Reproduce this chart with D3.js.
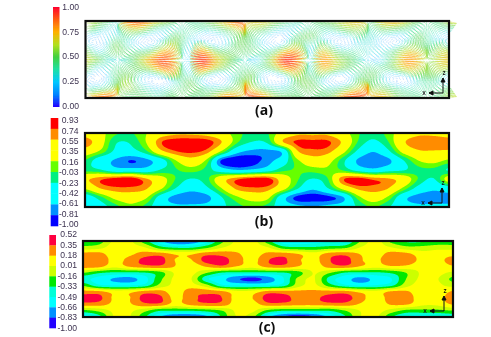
<!DOCTYPE html>
<html><head><meta charset="utf-8">
<script src="https://cdn.jsdelivr.net/npm/d3@7"></script>
<style>html,body{margin:0;padding:0;background:#fff}svg{display:block}text{font-family:"Open Sans",sans-serif}</style>
</head><body><svg id="c" width="491" height="337"></svg>
<script>
// ---- tick labels ----
const ticksA=["1.00","0.75","0.50","0.25","0.00"];
const ticksB=["0.93","0.74","0.55","0.35","0.16","-0.03","-0.23","-0.42","-0.61","-0.81","-1.00"];
const ticksC=["0.52","0.35","0.18","0.01","-0.16","-0.33","-0.49","-0.66","-0.83","-1.00"];
const panelLabels=["(a)","(b)","(c)"];
// ---- colours ----
const rampStopsA=[0,.12,.25,.38,.5,.62,.75,.88,1];
const rampColorsA=["#2200ff","#0080ff","#00c8ff","#20e0a0","#40d040","#b0e020","#ffb000","#ff5a10","#ff0030"];
const cellsB=["#ff0000","#ff8c00","#ffff00","#ffff00","#66ff00","#00f080","#00ffff","#00ffff","#0090ff","#0000ff"];
const cellsC=["#ff0040","#ff8c00","#ffff00","#ccff00","#00e800","#00ffd8","#00ffff","#0090ff","#2000ff"];
// ---- panel (b) field, rows top to bottom ----
const fieldB=[
[.4,.25,0,-.05,.15,.4,.5,.5,.45,.3,.05,-.1,-.05,.3,.5,.5,.5,.3,0,-.15,.05,.35,.5,.5,.45],
[.7,.3,-.2,-.2,.15,.72,.88,.9,.85,.55,0,-.25,-.2,.5,.78,.8,.78,.5,-.05,-.3,-.05,.5,.68,.68,.65],
[.35,.1,-.3,-.35,-.1,.45,.72,.78,.65,.1,-.5,-.68,-.7,-.55,.5,.68,.62,.25,-.3,-.6,-.3,.25,.5,.52,.5],
[-.05,-.45,-.65,-.82,-.7,-.4,.15,.4,.1,-.85,-1,-.9,-.72,-.42,.1,.38,.28,-.15,-.65,-.78,-.68,-.25,.15,.25,.1],
[-.1,-.2,-.45,-.45,-.45,-.2,-.05,.05,-.1,-.42,-.6,-.55,-.4,-.1,0,.05,.1,-.05,-.35,-.5,-.35,-.25,-.1,-.1,-.25],
[.5,.7,.85,.9,.6,.3,-.05,-.25,-.1,.4,.7,.85,.85,.4,0,-.25,-.05,.7,.85,.7,.6,.4,-.05,-.25,.3],
[.2,.55,.68,.68,.58,.2,-.25,-.5,-.3,.15,.6,.7,.65,.3,-.2,-.55,-.25,.25,.6,.65,.55,.1,-.35,-.55,-.4],
[-.45,-.1,.25,.35,.2,-.4,-.72,-.78,-.72,-.25,.1,.3,.25,-.45,-.88,-.92,-.88,-.65,.05,.35,.1,-.5,-.72,-.72,-.72],
[-.45,-.35,-.1,.1,-.1,-.45,-.55,-.55,-.5,-.3,-.1,0,-.1,-.4,-.55,-.6,-.55,-.45,-.2,0,-.2,-.45,-.55,-.55,-.55]];
// ---- panel (c) field ----
const fieldC=[
[-.3,-.25,.05,.05,-.25,-.6,-.85,-.8,-.55,-.2,.05,.08,-.25,-.6,-.6,-.55,-.5,-.5,-.15,.08,-.2,-.35,-.35,-.3,-.3],
[-.1,-.05,.1,.1,.02,-.25,-.35,-.35,-.2,0,.1,.1,.02,-.25,-.3,-.3,-.25,-.2,.02,.1,.02,-.1,-.1,-.05,-.05],
[.24,.24,.08,.14,.25,.26,.15,.15,.28,.28,.2,.1,.22,.25,.17,.08,.25,.28,.17,.1,.24,.22,.08,.08,.1],
[.33,.33,.12,.24,.4,.42,.17,.17,.42,.42,.25,.12,.34,.38,.2,.12,.34,.42,.2,.14,.3,.3,.12,.1,.28],
[.26,.24,.06,.2,.28,.3,.17,.06,.2,.3,.17,.08,.25,.28,.17,.08,.25,.3,.17,.08,.16,.14,.06,.06,.16],
[-.15,-.3,-.36,-.36,-.34,-.22,.04,.06,-.14,-.34,-.36,-.36,-.36,-.34,-.22,.02,-.14,-.34,-.36,-.36,-.3,-.15,.04,.06,-.02],
[-.45,-.55,-.68,-.72,-.55,-.2,.05,.02,-.45,-.6,-.8,-.9,-.75,-.5,-.1,.02,-.4,-.58,-.72,-.6,-.5,-.15,.05,.02,-.2],
[-.2,-.45,-.5,-.5,-.42,-.1,.06,.08,-.1,-.45,-.5,-.5,-.5,-.4,-.05,.05,-.25,-.45,-.52,-.48,-.38,-.05,.08,.05,-.05],
[.24,.22,.1,.12,.24,.24,.08,.28,.28,.22,.05,.08,.24,.24,.22,.22,.24,.24,.12,.06,.2,.2,.05,.05,.2],
[.42,.4,.15,.17,.42,.38,.12,.3,.38,.35,.1,.18,.42,.4,.3,.32,.4,.42,.25,.08,.26,.26,.08,.08,.3],
[.28,.26,.14,.16,.3,.3,.1,.24,.3,.28,.08,.1,.28,.28,.24,.24,.28,.28,.16,.06,.2,.2,.05,.05,.2],
[-.2,-.1,.05,.05,-.1,-.3,-.3,-.3,-.25,-.15,.05,.05,-.2,-.3,-.3,-.3,-.3,-.15,.02,.08,-.05,-.2,-.2,-.2,-.15],
[-.6,-.4,.02,.02,-.3,-.65,-.85,-.85,-.7,-.3,.02,-.1,-.6,-.85,-.95,-.85,-.6,-.35,0,.05,-.3,-.5,-.55,-.5,-.45]];
// ---- panel (a): normalised velocity magnitude ----
const speedA=[
[.65,.5,.35,.75,.9,.7,.55,.4,.55,.75,.9,.7,.7,.55,.4,.5,.55,.7,.7,.45,.7,.75,.55,.45,.7],
[.5,.3,.3,.5,.55,.35,.35,.42,.35,.45,.55,.5,.45,.3,.3,.42,.4,.5,.5,.35,.45,.45,.4,.42,.35],
[.2,.15,.5,.3,.12,.2,.5,.3,.12,.2,.5,.45,.2,.1,.45,.5,.2,.12,.3,.3,.12,.2,.5,.3,.2],
[.6,.3,.5,.45,.45,.65,.55,.3,.7,.5,.5,.45,.4,.65,.55,.3,.6,.4,.4,.3,.4,.6,.5,.45,.6],
[.7,.55,.3,.5,.75,.9,.55,.25,.95,.7,.5,.25,.6,.95,.7,.3,.8,.6,.45,.2,.5,.8,.65,.55,.7],
[.6,.3,.4,.5,.6,.75,.6,.3,.75,.6,.45,.4,.5,.75,.6,.4,.65,.55,.45,.4,.5,.65,.55,.55,.6],
[.2,.1,.45,.5,.2,.1,.35,.5,.2,.12,.4,.5,.12,.15,.5,.5,.2,.1,.4,.5,.2,.1,.35,.4,.2],
[.4,.4,.5,.6,.4,.3,.45,.5,.4,.4,.55,.6,.45,.35,.45,.5,.4,.5,.6,.5,.5,.4,.4,.45,.5],
[.75,.9,.7,.45,.5,.4,.5,.45,.55,.85,.7,.9,.85,.55,.5,.45,.55,.9,.9,.75,.75,.5,.45,.45,.65]];
// panel (a): stream function read from the vortex cells
const psiCols=[65,93,118,150,182,213,245,280,308,340,368,395,427,450,480];
const psiRows=[21,42,60,80,98];
const psiTop=[0,1,0,-1,0,1,0,-1,0,1,0,-1,0,1,0];
const psiMid=[0,0,0,0,0,0,0,0,0,0,0,0,0,0,0];
const psiBottom=[0,-1,0,1,0,-1,0,1,0,-1,0,1,0,-1,0];
const psiWall=[0,0,0,0,0,0,0,0,0,0,0,0,0,0,0];

const svg=d3.select("#c");
const defs=svg.append("defs");
function blur(id,s){defs.append("filter").attr("id",id).attr("x","-5%").attr("y","-5%").attr("width","110%").attr("height","110%")
  .append("feGaussianBlur").attr("stdDeviation",s);}
blur("soft",0.45);blur("softA",0.5);
const root=svg.append("g").attr("filter","url(#soft)");

function cr(a,b,c,d,t){return 0.5*((2*b)+(c-a)*t+(2*a-5*b+4*c-d)*t*t+(3*b-a-3*c+d)*t*t*t);}
function sample(g,u,v){
  const R=g.length,C=g[0].length;
  u=Math.max(0,Math.min(C-1,u));v=Math.max(0,Math.min(R-1,v));
  const i=Math.min(C-2,Math.floor(u)),j=Math.min(R-2,Math.floor(v)),tu=u-i,tv=v-j;
  const row=r=>{const q=g[Math.max(0,Math.min(R-1,r))];
    return cr(q[Math.max(0,i-1)],q[i],q[i+1],q[Math.min(C-1,i+2)],tu);};
  return cr(row(j-1),row(j),row(j+1),row(j+2),tv);
}
function contourPanel(field,ticks,cells,f){
  const w=f.x1-f.x0,h=f.y1-f.y0,S=2,W=w*S,H=h*S;
  const gu=d3.scaleLinear([0,W-1],[0,field[0].length-1]),gv=d3.scaleLinear([0,H-1],[0,field.length-1]);
  const vals=new Float64Array(W*H);
  for(let y=0;y<H;y++)for(let x=0;x<W;x++)vals[y*W+x]=sample(field,gu(x),gv(y));
  const th=ticks.map(Number).reverse().slice(0,-1);   // lower bound of each cell
  const colors=cells.slice().reverse();
  const g=root.append("g").attr("transform",`translate(${f.x0},${f.y0}) scale(${1/S})`);
  g.append("rect").attr("width",W).attr("height",H).attr("fill",colors[0]);
  const cs=d3.contours().size([W,H]).thresholds(th)(Array.from(vals));
  const path=d3.geoPath();
  g.selectAll("path").data(cs).join("path").attr("d",path)
    .attr("fill",(d,i)=>colors[i]);
}
function frame(f){
  root.append("rect").attr("x",f.x0).attr("y",f.y0).attr("width",f.x1-f.x0).attr("height",f.y1-f.y0)
    .attr("fill","none").attr("stroke","#111").attr("stroke-width",2.2);
}
function stepBar(ticks,cells,b,lab){
  const y=d3.scaleBand(cells.map((d,i)=>i),[b.y0,b.y1]).paddingInner(0);
  root.append("g").selectAll("rect").data(cells).join("rect")
    .attr("x",b.x0).attr("width",b.x1-b.x0).attr("y",(d,i)=>y(i)).attr("height",y.bandwidth()+.3).attr("fill",d=>d);
  tickAxis(ticks,lab);
}
function tickAxis(ticks,lab){
  const s=d3.scalePoint(ticks,[lab.y0,lab.y1]);
  const ax=root.append("g").attr("transform",`translate(${lab.x},0)`).call(d3.axisLeft(s).tickSize(0).tickPadding(0));
  ax.select(".domain").remove();
  ax.selectAll("text").attr("fill","#3d3350").attr("font-size",8.6).style("font-family",'"Liberation Sans",sans-serif');
}
function triad(t){
  const g=root.append("g").attr("stroke","#111").attr("stroke-width",1).attr("fill","none");
  g.append("path").attr("d",`M${t.x},${t.y-15}V${t.y}H${t.x-14}`);
  g.append("path").attr("d",`M${t.x-2},${t.y-11}L${t.x},${t.y-15}L${t.x+2},${t.y-11}Z`).attr("fill","#111");
  g.append("path").attr("d",`M${t.x-10},${t.y-2}L${t.x-14},${t.y}L${t.x-10},${t.y+2}Z`).attr("fill","#111");
  root.append("text").attr("x",t.x+1).attr("y",t.y-18).attr("text-anchor","middle").attr("font-size",6.5).attr("font-weight",600).attr("fill","#111").text("z");
  root.append("text").attr("x",t.x-19).attr("y",t.y+2).attr("text-anchor","middle").attr("font-size",6.5).attr("font-weight",600).attr("fill","#111").text("x");
}
// ---- panel a ----
const fA={x0:85.5,x1:449,y0:21,y1:98};
const rampA=d3.scaleLinear(rampStopsA,rampColorsA).clamp(true);
defs.append("linearGradient").attr("id","rampA").attr("x1",0).attr("x2",0).attr("y1",1).attr("y2",0)
  .selectAll("stop").data(rampStopsA).join("stop").attr("offset",d=>d).attr("stop-color",d=>rampA(d));
root.append("rect").attr("x",53).attr("y",7).attr("width",6.5).attr("height",100).attr("fill","url(#rampA)");
tickAxis(ticksA,{x:79,y0:6.5,y1:105.5});
const clipA=defs.append("clipPath").attr("id","clipA");
clipA.append("rect").attr("x",fA.x0).attr("y",fA.y0-2).attr("width",fA.x1-fA.x0).attr("height",fA.y1-fA.y0+4);
clipA.append("polygon").attr("points","449,21 457,23 451,32 449,32");
clipA.append("polygon").attr("points","449,88 451,88 457,97 449,99");
const psiGrid=[psiWall,psiTop,psiMid,psiBottom,psiWall];
const pu=d3.scaleLinear(psiCols,psiCols.map((d,i)=>i)).clamp(true);
const pv=d3.scaleLinear(psiRows,psiRows.map((d,i)=>i)).clamp(true);
const psi=(x,y)=>sample(psiGrid,pu(x),pv(y));
const su=d3.scaleLinear([85,449],[0,24]),sv=d3.scaleLinear([21,98],[0,8]);
function vel(x,y){const e=.7;
  const dx=(psi(x+e,y)-psi(x-e,y))/(2*e),dy=(psi(x,y+e)-psi(x,y-e))/(2*e);
  const m=Math.hypot(dx,dy)||1e-6;return [dy/m,-dx/m];}
const lines=[];
d3.range(22,98,1.7).forEach((y,j)=>{
  d3.range(86+(j%3)*1.2,457,3.6).forEach(x=>{
    const sp=sample(speedA,su(x),sv(y));
    const L=Math.round(sp*14);
    const pts=[[x,y]];
    let p=[x,y];
    for(let k=0;k<L;k++){const v=vel(p[0],p[1]);p=[p[0]+v[0]*1.1,p[1]+v[1]*1.1];pts.push(p);}
    lines.push({pts,sp});
  });
});
const ln=d3.line();
root.append("g").attr("clip-path","url(#clipA)").append("g").attr("filter","url(#softA)").attr("fill","none")
  .selectAll("path").data(lines.filter(d=>d.pts.length>2)).join("path").attr("d",d=>ln(d.pts))
  .attr("stroke",d=>rampA(d.sp)).attr("stroke-width",.5).attr("stroke-opacity",d=>.3+d.sp*.7);
frame(fA);
triad({x:443,y:93});
// ---- panel b ----
const fB={x0:85,x1:449,y0:133,y1:207};
stepBar(ticksB,cellsB,{x0:50.7,x1:58.3,y0:118,y1:226},{x:78.5,y0:120,y1:224});
contourPanel(fieldB,ticksB,cellsB,fB);frame(fB);triad({x:442,y:203});
// ---- panel c ----
const fC={x0:83,x1:453,y0:241,y1:317};
stepBar(ticksC,cellsC,{x0:49.3,x1:56,y0:235,y1:328},{x:77,y0:234,y1:327.5});
contourPanel(fieldC,ticksC,cellsC,fC);frame(fC);triad({x:444,y:311});
// ---- captions ----
root.append("g").selectAll("text").data(panelLabels).join("text")
  .attr("x",(d,i)=>[264,264,267][i]).attr("y",(d,i)=>[115,226,332][i])
  .attr("text-anchor","middle").attr("font-size",14).attr("font-weight",700).attr("fill","#111").text(d=>d);
</script></body></html>
